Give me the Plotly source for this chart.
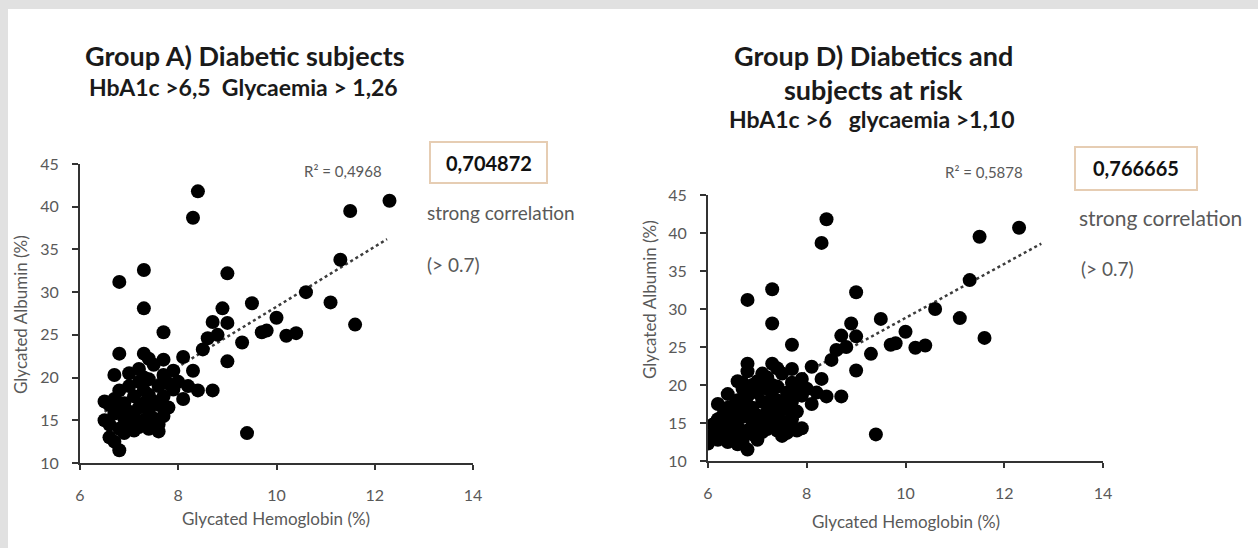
import plotly.graph_objects as go

# ---------------- data ----------------
# Group A) Diabetic subjects
a_hba1c = [12.3, 11.5, 8.4, 8.3, 11.3, 10.6, 11.1, 11.6, 10.0, 9.8, 9.7, 10.2, 10.4,
           9.5, 9.0, 9.4, 7.3, 6.8, 7.3, 8.9, 7.7, 8.7, 9.0, 8.6, 8.8, 8.5, 9.3, 9.0,
           6.8, 7.3, 7.4, 8.1, 7.7, 8.3, 6.7, 8.7, 8.4, 8.1, 7.9, 7.6, 6.8, 6.5, 6.5,
           6.6, 6.6, 6.6, 6.7, 6.7, 6.7, 6.8, 6.8, 6.8, 6.9, 6.9, 6.9, 7.0, 7.0, 7.0,
           7.0, 7.1, 7.1, 7.1, 7.2, 7.2, 7.2, 7.2, 7.3, 7.3, 7.3, 7.3, 7.4, 7.4, 7.4,
           7.4, 7.5, 7.5, 7.5, 7.6, 7.6, 7.6, 7.7, 7.7, 7.7, 7.8, 7.8, 7.9, 8.0, 8.2]
a_albumin = [40.7, 39.5, 41.8, 38.7, 33.8, 30.0, 28.8, 26.2, 27.0, 25.5, 25.3, 24.9, 25.2,
             28.7, 32.2, 13.5, 32.6, 31.2, 28.1, 28.1, 25.3, 26.5, 26.4, 24.6, 25.0, 23.3, 24.1, 21.9,
             22.8, 22.8, 22.2, 22.4, 22.1, 20.8, 20.3, 18.5, 18.5, 17.5, 18.6, 13.7, 11.5, 17.2, 15.0,
             16.8, 14.5, 13.0, 12.5, 15.8, 17.5, 14.0, 16.5, 18.5, 13.5, 15.2, 17.0, 14.5, 16.0, 19.0,
             20.5, 13.8, 15.5, 17.8, 14.2, 16.5, 19.5, 21.0, 15.0, 17.0, 18.5, 20.0, 14.0, 16.0, 18.0,
             19.8, 15.2, 17.2, 21.5, 14.5, 16.8, 19.0, 15.5, 17.8, 20.3, 16.5, 19.3, 20.8, 19.5, 19.0]

# Group D) extra subjects at risk (added to group A)
d_extra_hba1c = [6.0, 6.1, 6.1, 6.2, 6.2, 6.3, 6.3, 6.3, 6.4, 6.4, 6.4, 6.5, 6.5, 6.6,
                 6.6, 6.7, 6.9, 7.0, 7.1, 7.5, 7.6, 7.8, 7.9, 6.2, 6.4, 6.6, 6.8]
d_extra_albumin = [12.3, 13.5, 14.8, 12.8, 15.5, 13.2, 14.3, 16.0, 12.5, 15.0, 17.0, 13.8, 16.2, 18.0,
                   12.2, 19.5, 20.0, 12.8, 21.5, 13.3, 18.2, 14.0, 14.3, 17.5, 18.8, 20.5, 21.8]
d_hba1c = a_hba1c + d_extra_hba1c
d_albumin = a_albumin + d_extra_albumin

# trend lines (end points)
a_trend_x = [6.5, 12.25]
a_trend_y = [16.0, 36.2]
d_trend_x = [6.0, 12.75]
d_trend_y = [14.6, 38.6]

x_ticks = [6, 8, 10, 12, 14]
y_ticks = [10, 15, 20, 25, 30, 35, 40, 45]

W, H = 1258, 548
FONT = "Lato"
GREY = "#595959"


def fx(px):
    return px / W


def fy(py):
    return 1 - py / H


fig = go.Figure()

fig.add_trace(go.Scatter(x=a_trend_x, y=a_trend_y, mode="lines",
                         line=dict(color="#3c3c3c", width=2.5, dash="dot"),
                         xaxis="x", yaxis="y", showlegend=False, hoverinfo="skip"))
fig.add_trace(go.Scatter(x=a_hba1c, y=a_albumin, mode="markers",
                         marker=dict(color="black", size=14, line=dict(width=0)),
                         xaxis="x", yaxis="y", showlegend=False))
fig.add_trace(go.Scatter(x=d_trend_x, y=d_trend_y, mode="lines",
                         line=dict(color="#3c3c3c", width=2.5, dash="dot"),
                         xaxis="x2", yaxis="y2", showlegend=False, hoverinfo="skip"))
fig.add_trace(go.Scatter(x=d_hba1c, y=d_albumin, mode="markers",
                         marker=dict(color="black", size=14, line=dict(width=0)),
                         xaxis="x2", yaxis="y2", showlegend=False))

axis_common = dict(showline=True, linecolor="#333333", linewidth=2, ticks="outside",
                   tickcolor="#333333", tickwidth=2, showgrid=False, zeroline=False,
                   automargin=False,
                   tickfont=dict(family=FONT, size=16, color=GREY))

fig.update_layout(
    width=W, height=H,
    autosize=False,
    margin=dict(l=0, r=0, t=0, b=0, pad=0, autoexpand=False),
    paper_bgcolor="#e1e1e1",
    plot_bgcolor="rgba(0,0,0,0)",
    showlegend=False,
    xaxis=dict(domain=[fx(80), fx(473)], range=[6, 14], tickvals=x_ticks, ticklen=5,
               ticklabelstandoff=12, anchor="y", **axis_common),
    yaxis=dict(domain=[fy(463), fy(164)], range=[10, 45], tickvals=y_ticks, ticklen=6,
               ticklabelstandoff=10, anchor="x", **axis_common),
    xaxis2=dict(domain=[fx(708), fx(1103)], range=[6, 14], tickvals=x_ticks, ticklen=5,
                ticklabelstandoff=12, anchor="y2", **axis_common),
    yaxis2=dict(domain=[fy(461), fy(195)], range=[10, 45], tickvals=y_ticks, ticklen=6,
                ticklabelstandoff=10, anchor="x2", **axis_common),
)

shapes = [
    dict(type="rect", xref="paper", yref="paper", x0=fx(8), x1=1.01, y0=-0.01, y1=fy(9),
         fillcolor="white", line=dict(width=0), layer="below"),
    dict(type="rect", xref="paper", yref="paper", x0=fx(430), x1=fx(547), y0=fy(183), y1=fy(142),
         fillcolor="white", line=dict(color="#e6cdb3", width=2)),
    dict(type="rect", xref="paper", yref="paper", x0=fx(1075), x1=fx(1197), y0=fy(190), y1=fy(147),
         fillcolor="white", line=dict(color="#e6cdb3", width=2)),
]
fig.update_layout(shapes=shapes)


def note(text, px, py, size, color="#1a1a1a", bold=False, xanchor="center", angle=0):
    if bold:
        text = "<b>" + text + "</b>"
    fig.add_annotation(text=text, x=fx(px), y=fy(py), xref="paper", yref="paper",
                       showarrow=False, xanchor=xanchor, yanchor="middle", textangle=angle,
                       font=dict(family=FONT, size=size, color=color))


# titles
note("Group A) Diabetic subjects", 245, 55, 27, bold=True)
note("HbA1c &gt;6,5  Glycaemia &gt; 1,26", 243, 87, 23, bold=True)
note("Group D) Diabetics and", 873, 55, 27, bold=True)
note("subjects at risk", 873, 89, 27, bold=True)
note("HbA1c &gt;6   glycaemia &gt;1,10", 872, 119, 23, bold=True)

# correlation boxes / notes
note("0,704872", 489, 163, 20, color="#111111", bold=True)
note("0,766665", 1136, 168, 20, color="#111111", bold=True)
note("R² = 0,4968", 343, 171, 15, color=GREY)
note("R² = 0,5878", 984, 172, 15, color=GREY)
note("strong correlation", 425, 212, 19, color=GREY, xanchor="left")
note("(&gt; 0.7)", 425, 264, 19, color=GREY, xanchor="left")
note("strong correlation", 1077, 217, 21, color=GREY, xanchor="left")
note("(&gt; 0.7)", 1079, 268, 19, color=GREY, xanchor="left")

# axis titles
note("Glycated Hemoglobin (%)", 276, 518, 17, color=GREY)
note("Glycated Hemoglobin (%)", 906, 521, 17, color=GREY)
note("Glycated Albumin (%)", 20, 315, 17, color=GREY, angle=-90)
note("Glycated Albumin (%)", 649, 300, 17, color=GREY, angle=-90)

fig.write_html("out.html", config={"displayModeBar": False},
               post_script="document.body.style.margin='0';")
